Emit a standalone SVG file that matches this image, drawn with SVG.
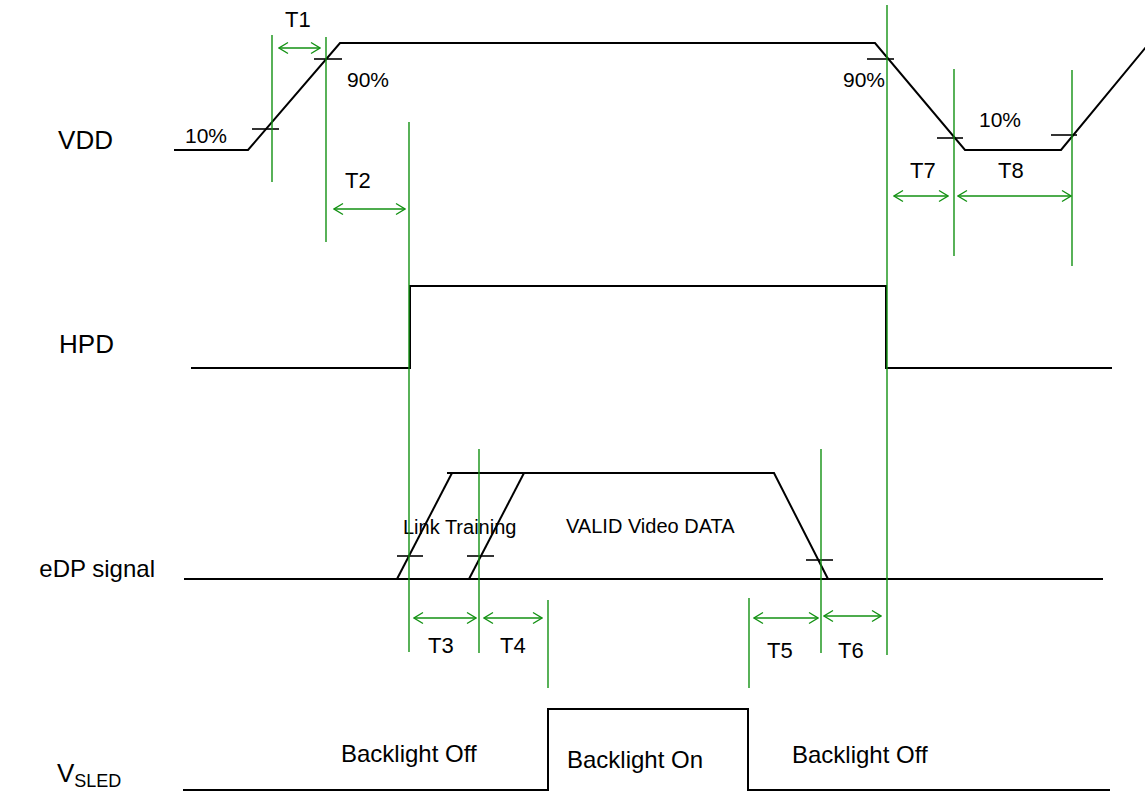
<svg xmlns="http://www.w3.org/2000/svg" width="1145" height="792" viewBox="0 0 1145 792">
<style>
.sig{fill:none;stroke:#000;stroke-width:2;stroke-linejoin:miter}
.tick{stroke:#000;stroke-width:1.6}
.g{stroke:#129112;stroke-width:1.4;fill:none}
.arr{stroke:#129112;stroke-width:1.3;fill:none;marker-start:url(#ah);marker-end:url(#ah)}
text{font-family:"Liberation Sans",Arial,sans-serif;fill:#000}
.big{font-size:24px}
.lg{font-size:26px}
.t{font-size:22px}
.p{font-size:21px}
.s{font-size:20px}
.b{font-size:24px}
</style>
<defs>
<marker id="ah" markerWidth="12" markerHeight="14" refX="0" refY="0" viewBox="-11 -7 12 14" orient="auto-start-reverse" markerUnits="userSpaceOnUse">
<path d="M-9,-5.5 L0,0 L-9,5.5" fill="none" stroke="#129112" stroke-width="1.3"/>
</marker>
</defs>
<rect width="1145" height="792" fill="#fff"/>

<g id="labels">
<text class="lg" x="113" y="149" text-anchor="end">VDD</text>
<text class="lg" x="114" y="353" text-anchor="end">HPD</text>
<text class="big" x="155" y="577" text-anchor="end">eDP signal</text>
<text class="lg" x="57" y="782">V<tspan font-size="18" dy="5">SLED</tspan></text>
</g>

<g id="vdd">
<polyline class="sig" points="174,150 248,150 340,43 875,43 965,150 1061,150 1146,47"/>
<line class="tick" x1="252" y1="129" x2="279" y2="129"/>
<line class="tick" x1="314" y1="59" x2="342" y2="59"/>
<line class="tick" x1="867" y1="59" x2="894" y2="59"/>
<line class="tick" x1="937" y1="138" x2="963" y2="138"/>
<line class="tick" x1="1051" y1="135" x2="1077" y2="135"/>
<text class="p" x="185" y="143">10%</text>
<text class="p" x="347" y="87">90%</text>
<text class="p" x="843" y="87">90%</text>
<text class="p" x="979" y="127">10%</text>
</g>

<g id="hpd">
<polyline class="sig" points="191,368 410,368 410,286 886,286 886,368 1112,368"/>
</g>

<g id="edp">
<line class="sig" x1="184" y1="579" x2="1103" y2="579"/>
<line class="sig" x1="397" y1="579" x2="452" y2="473"/>
<line class="sig" x1="469" y1="579" x2="524" y2="473"/>
<polyline class="sig" points="447,473 774,473 828,579"/>
<line class="tick" x1="397" y1="556" x2="423" y2="556"/>
<line class="tick" x1="467" y1="556" x2="494" y2="556"/>
<line class="tick" x1="806" y1="560" x2="833" y2="560"/>
<text class="s" x="403" y="534">Link Training</text>
<text class="s" x="566" y="533">VALID Video DATA</text>
</g>

<g id="vsled">
<polyline class="sig" points="183,790 548,790 548,709 748,709 748,790 1110,790"/>
<text class="b" x="341" y="762">Backlight Off</text>
<text class="b" x="567" y="768">Backlight On</text>
<text class="b" x="792" y="763">Backlight Off</text>
</g>

<g id="connectors">
<line class="g" x1="272" y1="35" x2="272" y2="182"/>
<line class="g" x1="326" y1="37" x2="326" y2="242"/>
<line class="g" x1="409" y1="122" x2="409" y2="652"/>
<line class="g" x1="479" y1="449" x2="479" y2="653"/>
<line class="g" x1="548" y1="600" x2="548" y2="688"/>
<line class="g" x1="749" y1="598" x2="749" y2="688"/>
<line class="g" x1="821" y1="449" x2="821" y2="653"/>
<line class="g" x1="887" y1="5" x2="887" y2="655"/>
<line class="g" x1="954" y1="69" x2="954" y2="256"/>
<line class="g" x1="1072" y1="70" x2="1072" y2="266"/>

<line class="arr" x1="279" y1="48" x2="320" y2="48"/>
<line class="arr" x1="334" y1="209" x2="405" y2="209"/>
<line class="arr" x1="894" y1="196" x2="948" y2="196"/>
<line class="arr" x1="958" y1="196" x2="1071" y2="196"/>
<line class="arr" x1="414" y1="618" x2="476" y2="618"/>
<line class="arr" x1="484" y1="618" x2="542" y2="618"/>
<line class="arr" x1="754" y1="618" x2="818" y2="618"/>
<line class="arr" x1="824" y1="616" x2="881" y2="616"/>
</g>

<g id="timing-labels">
<text class="t" x="285" y="27">T1</text>
<text class="t" x="345" y="188">T2</text>
<text class="t" x="910" y="178">T7</text>
<text class="t" x="998" y="178">T8</text>
<text class="t" x="428" y="653">T3</text>
<text class="t" x="500" y="653">T4</text>
<text class="t" x="767" y="658">T5</text>
<text class="t" x="838" y="658">T6</text>
</g>
</svg>
